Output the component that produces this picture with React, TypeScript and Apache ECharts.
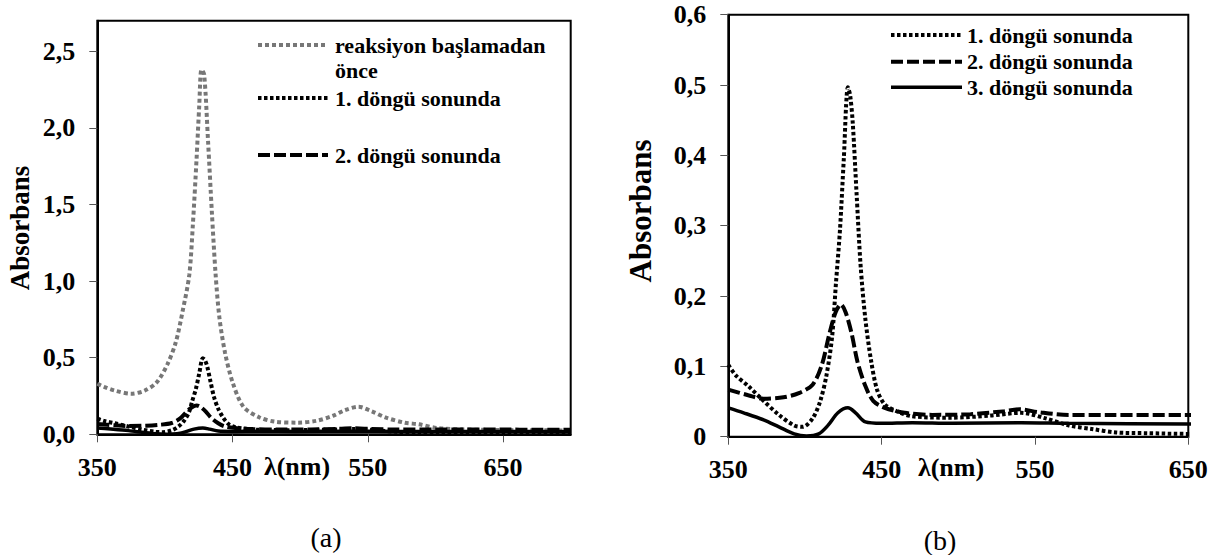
import React, { useEffect, useRef } from "react";
import * as echarts from "echarts";

const FONT = "'Liberation Serif', 'Times New Roman', serif";

// Tick values
const xTicks = [350, 450, 550, 650];
const yTicksA = [0, 0.5, 1.0, 1.5, 2.0, 2.5];
const yTicksB = [0, 0.1, 0.2, 0.3, 0.4, 0.5, 0.6];

// Legend labels
const nameBefore = "reaksiyon başlamadan önce";
const name1 = "1. döngü sonunda";
const name2 = "2. döngü sonunda";
const name3 = "3. döngü sonunda";

// reaksiyon başlamadan önce (chart a only)
const wlBefore = [350, 355, 363, 375, 385, 394, 402, 408, 413, 418, 420.6, 423.4, 425.4, 427, 429, 431.9, 434.7, 437.5, 440.3, 444.5, 450, 458, 470, 481, 498, 512, 524, 533, 543, 553, 563, 577, 588, 602, 631, 660, 700];
const absBefore = [0.33, 0.31, 0.285, 0.265, 0.285, 0.34, 0.46, 0.6, 0.8, 1.04, 1.36, 1.8, 2.15, 2.38, 2.35, 1.91, 1.45, 1.04, 0.76, 0.53, 0.34, 0.18, 0.11, 0.083, 0.076, 0.088, 0.12, 0.157, 0.18, 0.15, 0.11, 0.076, 0.065, 0.04, 0.03, 0.027, 0.025];

// 1. döngü sonunda
const wl1 = [350, 355, 363, 373, 383, 393, 398.5, 405, 410, 414, 417.7, 420.2, 422.8, 425.3, 428, 429.5, 431.2, 433.7, 436.3, 439.4, 443.2, 447, 452, 460, 470, 495, 521, 541, 557, 572, 587, 603, 623, 650, 675, 700];
const abs1 = [0.102, 0.087, 0.072, 0.051, 0.031, 0.016, 0.014, 0.026, 0.051, 0.087, 0.142, 0.218, 0.293, 0.394, 0.497, 0.485, 0.445, 0.344, 0.243, 0.167, 0.107, 0.067, 0.046, 0.036, 0.029, 0.027, 0.03, 0.034, 0.026, 0.016, 0.011, 0.006, 0.005, 0.004, 0.004, 0.004];

// 2. döngü sonunda
const wl2 = [350, 363, 373, 386, 396, 405, 411, 416, 420, 423.5, 426.5, 430.4, 434.2, 439.4, 444.5, 452, 465, 483, 508, 529, 540, 552, 572, 598, 650, 675, 700];
const abs2 = [0.067, 0.059, 0.054, 0.056, 0.062, 0.074, 0.102, 0.147, 0.177, 0.188, 0.177, 0.147, 0.107, 0.072, 0.051, 0.041, 0.034, 0.031, 0.032, 0.036, 0.039, 0.035, 0.031, 0.031, 0.031, 0.03, 0.03];

// 3. döngü sonunda
const wl3 = [350, 360, 373, 383, 393, 401, 409, 415, 421.5, 428, 433, 439.4, 450, 470, 496, 541, 572, 650, 700];
const abs3 = [0.041, 0.034, 0.024, 0.014, 0.004, 0.001, 0.004, 0.016, 0.034, 0.041, 0.034, 0.021, 0.019, 0.02, 0.019, 0.02, 0.019, 0.018, 0.017];

const zip = (xs: number[], ys: number[]) => xs.map((x, i) => [x, ys[i]]);

const GRAY = "#777777";
const styleBefore = { color: GRAY, width: 4, type: [4, 3] as number[] };
const style1 = { color: "#000", width: 4, type: [3.5, 2.5] as number[] };
const style2 = { color: "#000", width: 4, type: [12, 4] as number[] };
const style3 = { color: "#000", width: 3.5, type: "solid" as const };

const labelStyle = { fontSize: 26, fontWeight: "bold" as const, fontFamily: FONT, color: "#000" };

const fmtA = (v: number) => v.toFixed(1).replace(".", ",");
const fmtB = (v: number) => (v === 0 ? "0" : v.toFixed(1).replace(".", ","));

function xAxis(gridIndex: number, max: number) {
  return {
    type: "value" as const,
    gridIndex,
    min: 350,
    max,
    axisLine: { show: true, onZero: false, lineStyle: { color: "#000", width: 2 } },
    axisTick: { show: true, inside: false, length: 8, customValues: xTicks, lineStyle: { color: "#555", width: 1 } },
    axisLabel: { ...labelStyle, margin: 20, customValues: xTicks },
    splitLine: { show: false },
  };
}

function yAxis(gridIndex: number, max: number, ticks: number[], fmt: (v: number) => string) {
  return {
    type: "value" as const,
    gridIndex,
    min: 0,
    max,
    axisLine: { show: true, lineStyle: { color: "#000", width: 2 } },
    axisTick: { show: true, inside: false, length: 8, customValues: ticks, lineStyle: { color: "#555", width: 1 } },
    axisLabel: { ...labelStyle, margin: 22, customValues: ticks, formatter: fmt },
    splitLine: { show: false },
  };
}

function line(name: string, xi: number, xs: number[], ys: number[], ls: any, z: number) {
  return {
    type: "line" as const,
    name,
    xAxisIndex: xi,
    yAxisIndex: xi,
    data: zip(xs, ys),
    symbol: "none",
    showSymbol: false,
    smooth: 0.3,
    clip: true,
    z,
    lineStyle: ls,
  };
}

function legendLine(x1: number, x2: number, y: number, ls: any) {
  return {
    type: "line",
    shape: { x1, y1: y, x2, y2: y },
    style: {
      stroke: ls.color,
      lineWidth: ls.width,
      lineDash: Array.isArray(ls.type) ? ls.type : null,
    },
  };
}

function legendText(x: number, y: number, text: string, size = 22) {
  return {
    type: "text",
    x,
    y,
    style: { text, fontSize: size, fontWeight: "bold", fontFamily: FONT, fill: "#000", verticalAlign: "middle", align: "left" },
  };
}

function plainText(x: number, y: number, text: string, size: number, weight: string, rotation = 0) {
  return {
    type: "text",
    x,
    y,
    rotation,
    style: { text, fontSize: size, fontWeight: weight, fontFamily: FONT, fill: "#000", verticalAlign: "middle", align: "center" },
  };
}

const option = {
  animation: false,
  backgroundColor: "#fff",
  grid: [
    { left: 97.3, top: 20.7, width: 473.4, height: 413.6, show: true, borderColor: "#000", borderWidth: 2, containLabel: false },
    { left: 728.3, top: 14.7, width: 460, height: 422, show: true, borderColor: "#000", borderWidth: 2, containLabel: false },
  ],
  xAxis: [xAxis(0, 700), xAxis(1, 650)],
  yAxis: [yAxis(0, 2.7, yTicksA, fmtA), yAxis(1, 0.6, yTicksB, fmtB)],
  series: [
    line(nameBefore, 0, wlBefore, absBefore, styleBefore, 2),
    line(name1, 0, wl1, abs1, style1, 3),
    line(name2, 0, wl2, abs2, style2, 4),
    line(name3, 0, wl3, abs3, style3, 5),
    line(name1, 1, wl1, abs1, style1, 3),
    line(name2, 1, wl2, abs2, style2, 4),
    line(name3, 1, wl3, abs3, style3, 5),
  ],
  graphic: [
    // legend (a)
    legendLine(258, 328, 45, styleBefore),
    legendText(335, 45, "reaksiyon başlamadan"),
    legendText(335, 70, "önce"),
    legendLine(258, 328, 98, style1),
    legendText(335, 98, name1),
    legendLine(258, 328, 155, style2),
    legendText(335, 155, name2),
    // legend (b)
    legendLine(891, 962, 35, style1),
    legendText(967, 35, name1),
    legendLine(891, 962, 61.7, style2),
    legendText(967, 61.7, name2),
    legendLine(891, 962, 87.3, style3),
    legendText(967, 87.3, name3),
    // axis titles
    plainText(20, 228, "Absorbans", 27, "bold", Math.PI / 2),
    plainText(640, 211, "Absorbans", 31, "bold", Math.PI / 2),
    plainText(297, 466, "λ(nm)", 26, "bold"),
    plainText(951, 467, "λ(nm)", 26, "bold"),
    // panel labels
    plainText(326, 537, "(a)", 28, "normal"),
    plainText(940, 540, "(b)", 28, "normal"),
  ],
};

export default function App() {
  const ref = useRef<HTMLDivElement>(null);
  useEffect(() => {
    const chart = echarts.init(ref.current!, null, { renderer: "svg" });
    chart.setOption(option as any);
    return () => chart.dispose();
  }, []);
  return (
    <div
      ref={ref}
      style={{ position: "fixed", left: 0, top: 0, width: 1213, height: 555, background: "#fff" }}
    />
  );
}
